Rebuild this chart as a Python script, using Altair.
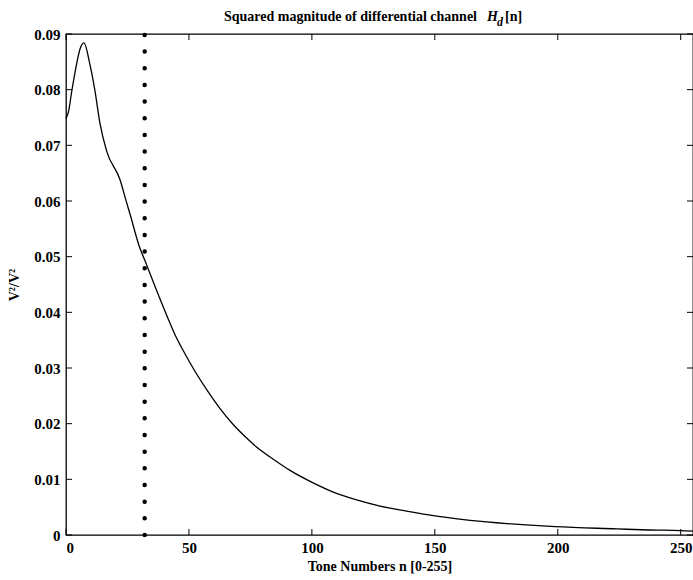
import altair as alt
import pandas as pd

# Curve readings: tone number n and squared magnitude |Hd[n]|^2
n_vals = [0, 1, 2.3, 4.3, 5.7, 7.3, 9.7, 11.7, 13.8, 16.5, 21.9, 24.6, 26, 30, 32.1, 36.7,
          41.4, 44.1, 48.2, 52.2, 57.7, 62.5, 67.9, 74, 77.5, 84.3, 91.1, 100.3, 108.7,
          118.2, 127.7, 138.5, 150.7, 170, 199, 224, 237, 250, 255]
h_vals = [0.0748, 0.0760, 0.0796, 0.0846, 0.0873, 0.0884, 0.0846, 0.0800, 0.0740, 0.0690,
          0.0639, 0.0598, 0.0577, 0.0516, 0.0493, 0.0441, 0.0390, 0.0362, 0.0327, 0.0296,
          0.0258, 0.0228, 0.0199, 0.0172, 0.0158, 0.0136, 0.0116, 0.0094, 0.0077, 0.0063,
          0.0052, 0.0043, 0.0034, 0.0024, 0.0015, 0.0011, 0.0009, 0.0008, 0.0007]

cutoff_n = [32]
cutoff_y0 = [0.0]
cutoff_y1 = [0.09]

x_ticks = [0, 50, 100, 150, 200, 250]
y_ticks = [0, 0.01, 0.02, 0.03, 0.04, 0.05, 0.06, 0.07, 0.08, 0.09]

title_main = "Squared magnitude of differential channel"
title_H = "H"
title_sub = "d"
title_end = "[n]"
x_title = "Tone Numbers n [0-255]"
y_title = "V²/V²"

W, H = 627, 501
FONT = "Liberation Serif"

curve = pd.DataFrame({"n": n_vals, "h": h_vals})
cut = pd.DataFrame({"n": cutoff_n, "y0": cutoff_y0, "y1": cutoff_y1})
xt = pd.DataFrame({"t": x_ticks})
yt = pd.DataFrame({"t": y_ticks})

xscale = alt.Scale(domain=[0, 255], nice=False, zero=False)
yscale = alt.Scale(domain=[0, 0.09], nice=False)

x_axis = alt.Axis(values=x_ticks, ticks=False, domain=False, grid=False, labelFont=FONT,
                  labelFontSize=15, labelFontWeight="bold", labelPadding=5, labelColor="black",
                  title=x_title, titleFont=FONT, titleFontSize=14, titleFontWeight="bold",
                  titleColor="black", titlePadding=4)
y_axis = alt.Axis(values=y_ticks, format=".2~f", ticks=False, domain=False, grid=False,
                  labelFont=FONT, labelFontSize=15, labelFontWeight="bold", labelPadding=6,
                  labelColor="black", labelFlush=False, title=y_title, titleFont=FONT,
                  titleFontSize=14, titleFontWeight="bold", titleColor="black", titlePadding=12)

line = alt.Chart(curve).mark_line(color="black", strokeWidth=1.3, interpolate="monotone").encode(
    x=alt.X("n:Q", scale=xscale, axis=x_axis),
    y=alt.Y("h:Q", scale=yscale, axis=y_axis),
)

dots = alt.Chart(cut).mark_rule(color="black", strokeWidth=4.5, strokeCap="round",
                                strokeDash=[0, 16.67]).encode(
    x=alt.X("n:Q", scale=xscale),
    y=alt.Y("y0:Q", scale=yscale),
    y2="y1:Q",
)

xt_bot = alt.Chart(xt).mark_rule(color="black", strokeWidth=1).encode(
    x=alt.X("t:Q", scale=xscale), y=alt.value(H), y2=alt.value(H - 6))
xt_top = alt.Chart(xt).mark_rule(color="black", strokeWidth=1).encode(
    x=alt.X("t:Q", scale=xscale), y=alt.value(0), y2=alt.value(6))
yt_left = alt.Chart(yt).mark_rule(color="black", strokeWidth=1).encode(
    y=alt.Y("t:Q", scale=yscale), x=alt.value(0), x2=alt.value(6))
yt_right = alt.Chart(yt).mark_rule(color="black", strokeWidth=1).encode(
    y=alt.Y("t:Q", scale=yscale), x=alt.value(W - 6), x2=alt.value(W))

def txt(s, x, y, size=14, style="normal", align="left"):
    return alt.Chart(pd.DataFrame({"s": [s]})).mark_text(
        font=FONT, fontSize=size, fontWeight="bold", fontStyle=style, align=align,
        baseline="alphabetic", color="black").encode(
        text="s:N", x=alt.value(x), y=alt.value(y))

t1 = txt(title_main, 411, -13, align="right")
t2 = txt(title_H, 421, -13, style="italic")
t3 = txt(title_sub, 431, -8, size=12, style="italic")
t4 = txt(title_end, 439, -13)

chart = alt.layer(line, dots, xt_bot, xt_top, yt_left, yt_right, t1, t2, t3, t4).properties(
    width=W, height=H,
    autosize=alt.AutoSizeParams(type="none"),
    padding={"left": 66, "top": 34, "right": 0, "bottom": 45},
    background="white",
).configure_view(stroke="black", strokeWidth=1.3)

chart.save("out.html", embed_options={"renderer": "svg", "actions": False})
